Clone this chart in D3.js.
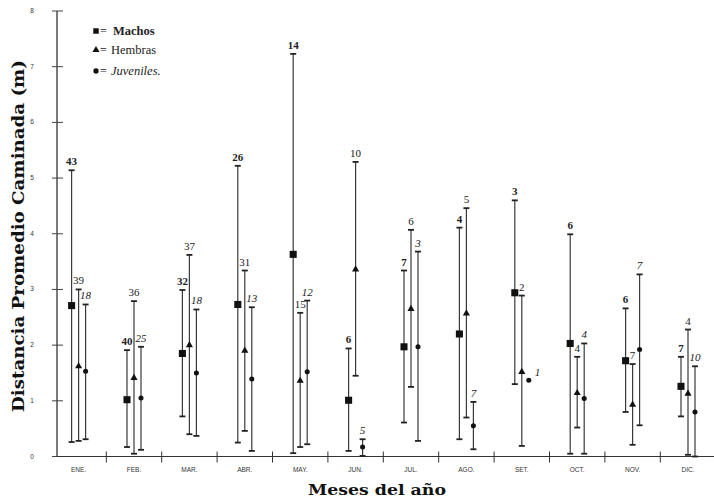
<!DOCTYPE html>
<html>
<head>
<meta charset="utf-8">
<script src="https://cdn.jsdelivr.net/npm/d3@7"></script>
<style>
  body { margin: 0; background: #fff; }
  svg { display: block; }
</style>
</head>
<body>
<svg id="chart" width="714" height="500"></svg>
<script>
// Months on the x axis.
var months = ["ENE.", "FEB.", "MAR.", "ABR.", "MAY.", "JUN.", "JUL.", "AGO.", "SET.", "OCT.", "NOV.", "DIC."];

// Machos: mean, upper and lower bar ends, sample size.
var machosMean = [2.71, 1.02, 1.85, 2.73, 3.63, 1.01, 1.97, 2.20, 2.94, 2.03, 1.72, 1.26];
var machosHigh = [5.14, 1.91, 2.99, 5.22, 7.23, 1.94, 3.34, 4.11, 4.60, 3.99, 2.66, 1.79];
var machosLow  = [0.26, 0.17, 0.72, 0.25, 0.06, 0.10, 0.61, 0.31, 1.30, 0.05, 0.80, 0.72];
var machosN    = ["43", "40", "32", "26", "14", "6", "7", "4", "3", "6", "6", "7"];

// Hembras.
var hembrasMean = [1.62, 1.41, 2.00, 1.90, 1.36, 3.36, 2.65, 2.57, 1.52, 1.14, 0.93, 1.13];
var hembrasHigh = [3.00, 2.79, 3.62, 3.34, 2.58, 5.29, 4.07, 4.46, 2.89, 1.79, 1.66, 2.28];
var hembrasLow  = [0.28, 0.05, 0.40, 0.46, 0.17, 1.45, 1.25, 0.70, 0.19, 0.52, 0.21, 0.03];
var hembrasN    = ["39", "36", "37", "31", "15", "10", "6", "5", "2", "4", "7", "4"];

// Juveniles (SET. has a single animal, so no bar).
var juvMean = [1.53, 1.05, 1.50, 1.39, 1.52, 0.17, 1.97, 0.55, 1.37, 1.04, 1.92, 0.80];
var juvHigh = [2.73, 1.97, 2.64, 2.68, 2.80, 0.31, 3.68, 0.98, null, 2.03, 3.27, 1.62];
var juvLow  = [0.31, 0.12, 0.37, 0.10, 0.22, 0.01, 0.28, 0.13, null, 0.05, 0.56, 0.00];
var juvN    = ["18", "25", "18", "13", "12", "5", "3", "7", "1", "4", "7", "10"];

var yTicks = [0, 1, 2, 3, 4, 5, 6, 7, 8];

var series = [
  { key: "Machos", mean: machosMean, high: machosHigh, low: machosLow, n: machosN,
    symbol: d3.symbolSquare, size: 50, weight: "bold", style: "normal" },
  { key: "Hembras", mean: hembrasMean, high: hembrasHigh, low: hembrasLow, n: hembrasN,
    symbol: d3.symbolTriangle, size: 22, weight: "normal", style: "normal" },
  { key: "Juveniles", mean: juvMean, high: juvHigh, low: juvLow, n: juvN,
    symbol: d3.symbolCircle, size: 20, weight: "normal", style: "italic" }
];

var svg = d3.select("#chart");
var serif = "'Liberation Serif', 'Times New Roman', serif";

var x = d3.scaleBand().domain(months).range([50.9, 715.7]).padding(0);
var offset = d3.scalePoint().domain(series.map(function(s) { return s.key; })).range([-7, 7]);
var y = d3.scaleLinear().domain([0, 8]).range([456.5, 11]);
var axisX = 57;

// Y axis line with crossing ticks.
svg.append("line")
  .attr("x1", axisX).attr("x2", axisX)
  .attr("y1", y(8)).attr("y2", y(0))
  .attr("stroke", "#222").attr("stroke-width", 1.2);

svg.selectAll(".ytick").data(yTicks).enter().append("line")
  .attr("x1", axisX - 5).attr("x2", axisX + 6)
  .attr("y1", function(d) { return y(d); })
  .attr("y2", function(d) { return y(d); })
  .attr("stroke", "#444").attr("stroke-width", 1);

svg.selectAll(".ylab").data(yTicks).enter().append("text")
  .attr("x", 32).attr("y", function(d) { return y(d) + 2; })
  .attr("text-anchor", "middle")
  .attr("font-family", "'Liberation Sans', Arial, sans-serif")
  .attr("font-size", 6.5).attr("fill", "#333")
  .text(function(d) { return d; });

// X axis line, tick marks at band boundaries, month labels.
svg.append("line")
  .attr("x1", axisX).attr("x2", 714)
  .attr("y1", y(0)).attr("y2", y(0))
  .attr("stroke", "#333").attr("stroke-width", 1.2);

svg.selectAll(".xtick").data(months.slice(1)).enter().append("line")
  .attr("x1", function(d) { return x(d); })
  .attr("x2", function(d) { return x(d); })
  .attr("y1", y(0) - 5).attr("y2", y(0) + 6)
  .attr("stroke", "#333").attr("stroke-width", 1);

svg.selectAll(".xlab").data(months).enter().append("text")
  .attr("x", function(d) { return x(d) + x.bandwidth() / 2; })
  .attr("y", 472)
  .attr("text-anchor", "middle")
  .attr("font-family", "'Liberation Sans', Arial, sans-serif")
  .attr("font-size", 6.5).attr("fill", "#333")
  .text(function(d) { return d; });

// Error bars, markers and sample sizes.
series.forEach(function(s) {
  var g = svg.append("g");
  var cx = function(i) { return x(months[i]) + x.bandwidth() / 2 + offset(s.key); };
  var idx = d3.range(months.length);
  var withBar = idx.filter(function(i) { return s.high[i] !== null; });

  g.selectAll(".bar").data(withBar).enter().append("line")
    .attr("x1", cx).attr("x2", cx)
    .attr("y1", function(i) { return y(s.high[i]); })
    .attr("y2", function(i) { return y(s.low[i]); })
    .attr("stroke", "#3a3a3a").attr("stroke-width", 1.2);

  ["high", "low"].forEach(function(k) {
    g.selectAll(".cap-" + k).data(withBar).enter().append("line")
      .attr("x1", function(i) { return cx(i) - 3; })
      .attr("x2", function(i) { return cx(i) + 3; })
      .attr("y1", function(i) { return y(s[k][i]); })
      .attr("y2", function(i) { return y(s[k][i]); })
      .attr("stroke", "#222").attr("stroke-width", 1.8);
  });

  g.selectAll(".mark").data(idx).enter().append("path")
    .attr("d", d3.symbol().type(s.symbol).size(s.size))
    .attr("transform", function(i) { return "translate(" + cx(i) + "," + y(s.mean[i]) + ")"; })
    .attr("fill", "#111");

  g.selectAll(".n").data(idx).enter().append("text")
    .attr("x", function(i) { return s.high[i] === null ? cx(i) + 6 : cx(i); })
    .attr("y", function(i) { return s.high[i] === null ? y(s.mean[i]) - 4 : y(s.high[i]) - 5; })
    .attr("text-anchor", function(i) { return s.high[i] === null ? "start" : "middle"; })
    .attr("font-family", serif)
    .attr("font-size", 11)
    .attr("font-weight", s.weight)
    .attr("font-style", s.style)
    .attr("fill", "#222")
    .text(function(i) { return s.n[i]; });
});

// Legend.
var legendLabels = ["Machos", "Hembras", "Juveniles."];
var legend = svg.append("g").attr("transform", "translate(96,0)");
series.forEach(function(s, i) {
  var ly = [31, 50, 71][i];
  legend.append("path")
    .attr("d", d3.symbol().type(s.symbol).size(i === 0 ? 30 : 22))
    .attr("transform", "translate(0," + ly + ")")
    .attr("fill", "#111");
  legend.append("text")
    .attr("x", 4).attr("y", ly + 3.5)
    .attr("font-family", serif).attr("font-size", 12).attr("fill", "#222")
    .text("=");
  legend.append("text")
    .attr("x", i === 0 ? 17 : 15).attr("y", ly + 3.5)
    .attr("font-family", serif).attr("font-size", 12.5)
    .attr("font-weight", s.weight).attr("font-style", s.style)
    .attr("fill", "#222")
    .text(legendLabels[i]);
});

// Axis titles.
svg.append("text")
  .attr("transform", "translate(24,236) rotate(-90)")
  .attr("text-anchor", "middle")
  .attr("font-family", "'DejaVu Serif', serif")
  .attr("font-weight", "bold").attr("font-size", 16)
  .attr("textLength", 352).attr("lengthAdjust", "spacingAndGlyphs")
  .attr("fill", "#111")
  .text("Distancia Promedio Caminada (m)");

svg.append("text")
  .attr("x", 377).attr("y", 495)
  .attr("text-anchor", "middle")
  .attr("font-family", "'DejaVu Serif', serif")
  .attr("font-weight", "bold").attr("font-size", 15)
  .attr("textLength", 138).attr("lengthAdjust", "spacingAndGlyphs")
  .attr("fill", "#111")
  .text("Meses del año");
</script>
</body>
</html>
